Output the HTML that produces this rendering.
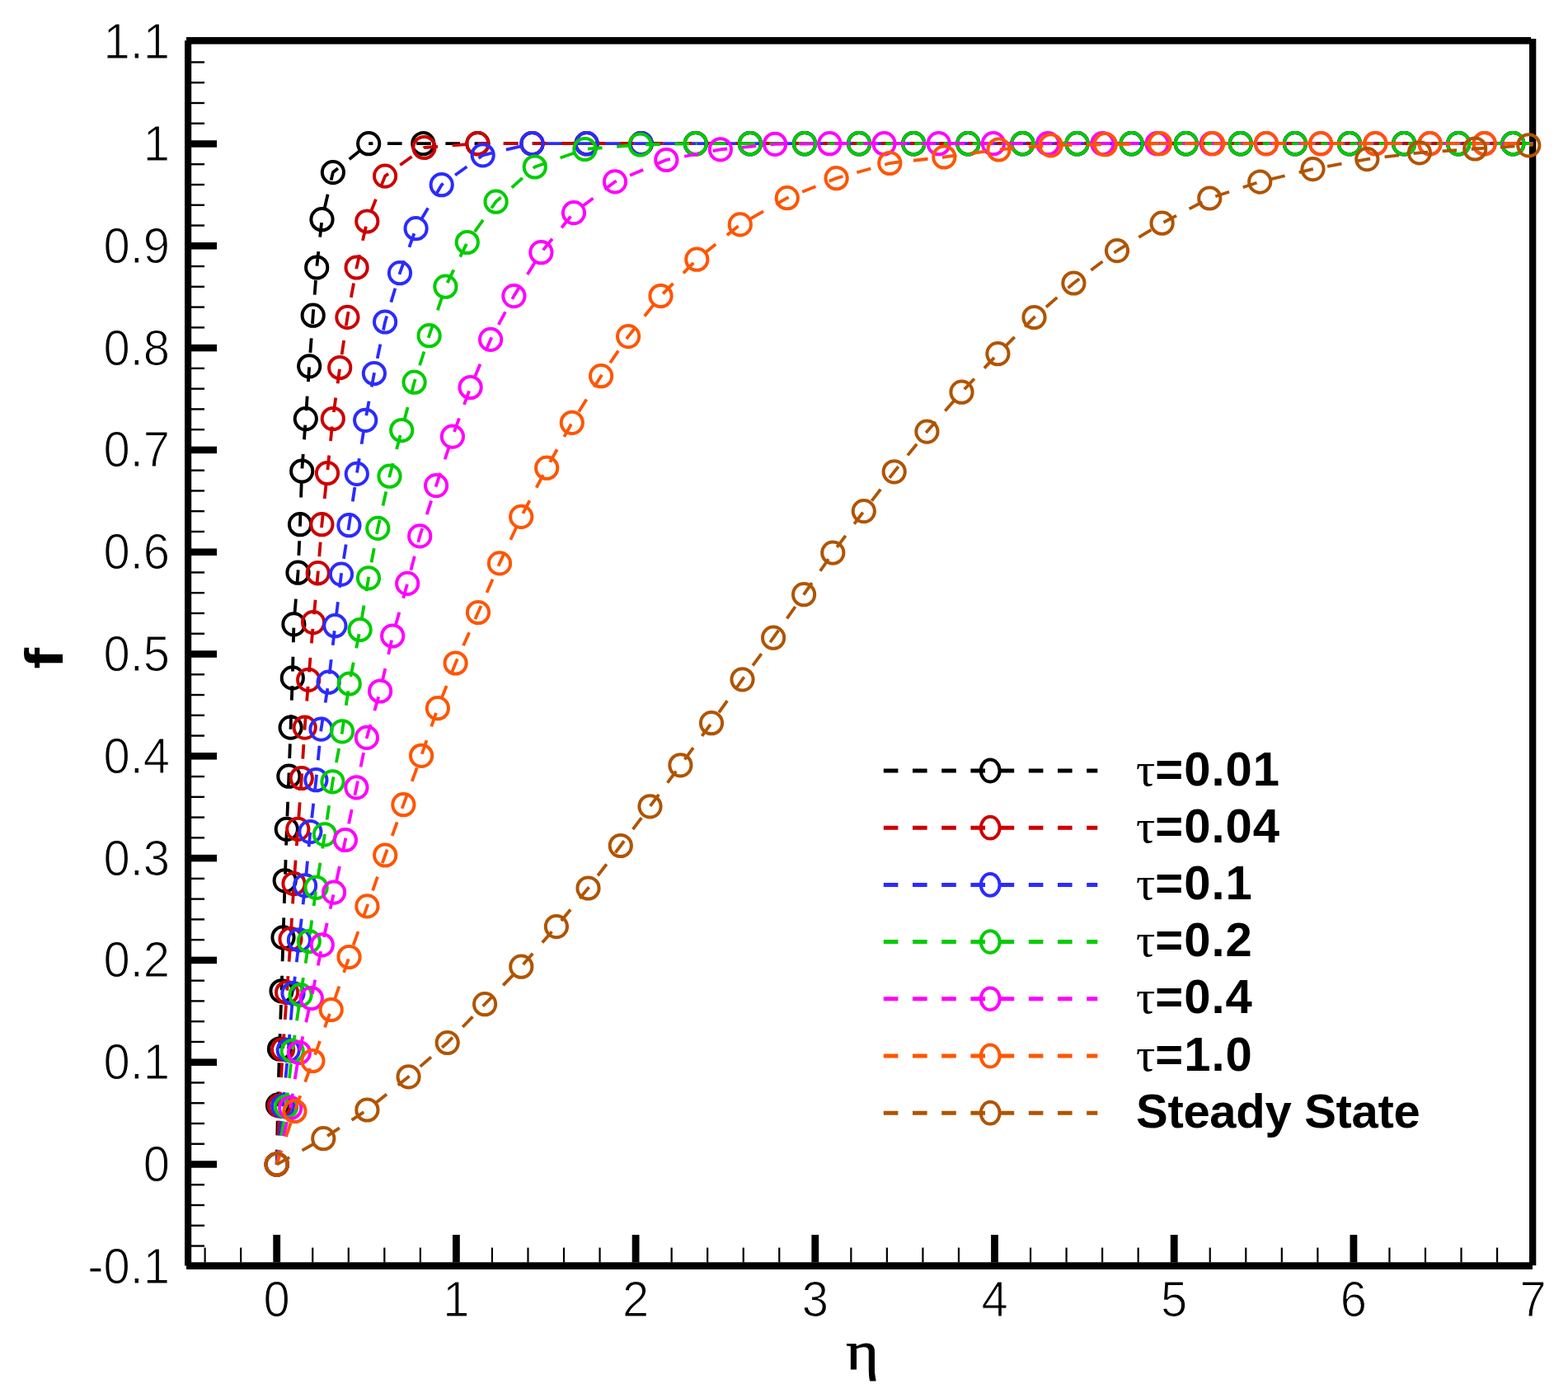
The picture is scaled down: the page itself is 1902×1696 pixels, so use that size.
<!DOCTYPE html>
<html><head><meta charset="utf-8"><title>f vs eta</title>
<style>html,body{margin:0;padding:0;background:#fff;}svg{display:block;}</style>
</head><body>
<svg width="1902" height="1696" viewBox="0 0 1902 1696"><g fill="#000"><rect x="226" y="45" width="1631" height="8.6"/><rect x="224" y="49.2" width="8.2" height="1486.3"/><rect x="1855" y="47" width="8.3" height="1488.2"/><rect x="226" y="1531.3" width="1633" height="8.7"/></g>
<g fill="#000"><rect x="232" y="1510.34" width="16" height="2.4"/><rect x="232" y="1485.58" width="16" height="2.4"/><rect x="232" y="1460.82" width="16" height="2.4"/><rect x="232" y="1436.06" width="16" height="2.4"/><rect x="232" y="1408.25" width="31" height="8.5"/><rect x="232" y="1386.54" width="16" height="2.4"/><rect x="232" y="1361.78" width="16" height="2.4"/><rect x="232" y="1337.02" width="16" height="2.4"/><rect x="232" y="1312.26" width="16" height="2.4"/><rect x="232" y="1284.45" width="31" height="8.5"/><rect x="232" y="1262.74" width="16" height="2.4"/><rect x="232" y="1237.98" width="16" height="2.4"/><rect x="232" y="1213.22" width="16" height="2.4"/><rect x="232" y="1188.46" width="16" height="2.4"/><rect x="232" y="1160.65" width="31" height="8.5"/><rect x="232" y="1138.94" width="16" height="2.4"/><rect x="232" y="1114.18" width="16" height="2.4"/><rect x="232" y="1089.42" width="16" height="2.4"/><rect x="232" y="1064.66" width="16" height="2.4"/><rect x="232" y="1036.85" width="31" height="8.5"/><rect x="232" y="1015.14" width="16" height="2.4"/><rect x="232" y="990.38" width="16" height="2.4"/><rect x="232" y="965.62" width="16" height="2.4"/><rect x="232" y="940.86" width="16" height="2.4"/><rect x="232" y="913.05" width="31" height="8.5"/><rect x="232" y="891.34" width="16" height="2.4"/><rect x="232" y="866.58" width="16" height="2.4"/><rect x="232" y="841.82" width="16" height="2.4"/><rect x="232" y="817.06" width="16" height="2.4"/><rect x="232" y="789.25" width="31" height="8.5"/><rect x="232" y="767.54" width="16" height="2.4"/><rect x="232" y="742.78" width="16" height="2.4"/><rect x="232" y="718.02" width="16" height="2.4"/><rect x="232" y="693.26" width="16" height="2.4"/><rect x="232" y="665.45" width="31" height="8.5"/><rect x="232" y="643.74" width="16" height="2.4"/><rect x="232" y="618.98" width="16" height="2.4"/><rect x="232" y="594.22" width="16" height="2.4"/><rect x="232" y="569.46" width="16" height="2.4"/><rect x="232" y="541.65" width="31" height="8.5"/><rect x="232" y="519.94" width="16" height="2.4"/><rect x="232" y="495.18" width="16" height="2.4"/><rect x="232" y="470.42" width="16" height="2.4"/><rect x="232" y="445.66" width="16" height="2.4"/><rect x="232" y="417.85" width="31" height="8.5"/><rect x="232" y="396.14" width="16" height="2.4"/><rect x="232" y="371.38" width="16" height="2.4"/><rect x="232" y="346.62" width="16" height="2.4"/><rect x="232" y="321.86" width="16" height="2.4"/><rect x="232" y="294.05" width="31" height="8.5"/><rect x="232" y="272.34" width="16" height="2.4"/><rect x="232" y="247.58" width="16" height="2.4"/><rect x="232" y="222.82" width="16" height="2.4"/><rect x="232" y="198.06" width="16" height="2.4"/><rect x="232" y="170.25" width="31" height="8.5"/><rect x="232" y="148.54" width="16" height="2.4"/><rect x="232" y="123.78" width="16" height="2.4"/><rect x="232" y="99.02" width="16" height="2.4"/><rect x="232" y="74.26" width="16" height="2.4"/><rect x="247.52" y="1513.6" width="2.2" height="17.9"/><rect x="291.06" y="1513.6" width="2.2" height="17.9"/><rect x="331.30" y="1498" width="8.8" height="33.5"/><rect x="378.14" y="1513.6" width="2.2" height="17.9"/><rect x="421.68" y="1513.6" width="2.2" height="17.9"/><rect x="465.22" y="1513.6" width="2.2" height="17.9"/><rect x="508.76" y="1513.6" width="2.2" height="17.9"/><rect x="549.00" y="1498" width="8.8" height="33.5"/><rect x="595.84" y="1513.6" width="2.2" height="17.9"/><rect x="639.38" y="1513.6" width="2.2" height="17.9"/><rect x="682.92" y="1513.6" width="2.2" height="17.9"/><rect x="726.46" y="1513.6" width="2.2" height="17.9"/><rect x="766.70" y="1498" width="8.8" height="33.5"/><rect x="813.54" y="1513.6" width="2.2" height="17.9"/><rect x="857.08" y="1513.6" width="2.2" height="17.9"/><rect x="900.62" y="1513.6" width="2.2" height="17.9"/><rect x="944.16" y="1513.6" width="2.2" height="17.9"/><rect x="984.40" y="1498" width="8.8" height="33.5"/><rect x="1031.24" y="1513.6" width="2.2" height="17.9"/><rect x="1074.78" y="1513.6" width="2.2" height="17.9"/><rect x="1118.32" y="1513.6" width="2.2" height="17.9"/><rect x="1161.86" y="1513.6" width="2.2" height="17.9"/><rect x="1202.10" y="1498" width="8.8" height="33.5"/><rect x="1248.94" y="1513.6" width="2.2" height="17.9"/><rect x="1292.48" y="1513.6" width="2.2" height="17.9"/><rect x="1336.02" y="1513.6" width="2.2" height="17.9"/><rect x="1379.56" y="1513.6" width="2.2" height="17.9"/><rect x="1419.80" y="1498" width="8.8" height="33.5"/><rect x="1466.64" y="1513.6" width="2.2" height="17.9"/><rect x="1510.18" y="1513.6" width="2.2" height="17.9"/><rect x="1553.72" y="1513.6" width="2.2" height="17.9"/><rect x="1597.26" y="1513.6" width="2.2" height="17.9"/><rect x="1637.50" y="1498" width="8.8" height="33.5"/><rect x="1684.34" y="1513.6" width="2.2" height="17.9"/><rect x="1727.88" y="1513.6" width="2.2" height="17.9"/><rect x="1771.42" y="1513.6" width="2.2" height="17.9"/><rect x="1814.96" y="1513.6" width="2.2" height="17.9"/></g>
<g font-family="Liberation Sans, Arial, sans-serif" font-size="61" fill="#000" stroke="#fff" stroke-width="1.2"><text transform="translate(206,1556.7) scale(0.95,1)" text-anchor="end">-0.1</text><text transform="translate(206,1432.9) scale(0.95,1)" text-anchor="end">0</text><text transform="translate(206,1309.1) scale(0.95,1)" text-anchor="end">0.1</text><text transform="translate(206,1185.3) scale(0.95,1)" text-anchor="end">0.2</text><text transform="translate(206,1061.5) scale(0.95,1)" text-anchor="end">0.3</text><text transform="translate(206,937.7) scale(0.95,1)" text-anchor="end">0.4</text><text transform="translate(206,813.9) scale(0.95,1)" text-anchor="end">0.5</text><text transform="translate(206,690.1) scale(0.95,1)" text-anchor="end">0.6</text><text transform="translate(206,566.3) scale(0.95,1)" text-anchor="end">0.7</text><text transform="translate(206,442.5) scale(0.95,1)" text-anchor="end">0.8</text><text transform="translate(206,318.7) scale(0.95,1)" text-anchor="end">0.9</text><text transform="translate(206,194.9) scale(0.95,1)" text-anchor="end">1</text><text transform="translate(206,71.1) scale(0.95,1)" text-anchor="end">1.1</text><text transform="translate(335.7,1596.5) scale(0.95,1)" text-anchor="middle">0</text><text transform="translate(553.4,1596.5) scale(0.95,1)" text-anchor="middle">1</text><text transform="translate(771.1,1596.5) scale(0.95,1)" text-anchor="middle">2</text><text transform="translate(988.8,1596.5) scale(0.95,1)" text-anchor="middle">3</text><text transform="translate(1206.5,1596.5) scale(0.95,1)" text-anchor="middle">4</text><text transform="translate(1424.2,1596.5) scale(0.95,1)" text-anchor="middle">5</text><text transform="translate(1641.9,1596.5) scale(0.95,1)" text-anchor="middle">6</text><text transform="translate(1859.6,1596.5) scale(0.95,1)" text-anchor="middle">7</text></g>
<text transform="translate(76,811.5) rotate(-90) scale(1.2,1)" font-family="Liberation Sans, Arial, sans-serif" font-weight="bold" font-size="64" fill="#000">f</text>
<text transform="translate(1046,1660.5) scale(1.15,1)" text-anchor="middle" font-family="Liberation Serif, Times New Roman, serif" font-size="66" fill="#000" stroke="#000" stroke-width="0.9">η</text>
<path d="M335.7,1412.5 L337.0,1340.7 L339.0,1272.5 L341.5,1202.3 L343.5,1137.3 L345.7,1068.3 L347.8,1005.9 L350.4,941.7 L352.6,882.6 L354.8,822.4 L356.4,757.4 L361.5,694.7 L364.0,636.2 L366.2,571.5 L370.8,508.1 L375.2,444.3 L379.7,382.7 L384.2,324.5 L390.5,266.2 L403.9,209.1 L447.2,174.2" fill="none" stroke="#000000" stroke-width="3.8" stroke-dasharray="17.6 17.6" stroke-linejoin="round"/>
<path d="M447.2,174.2 L513.3,174.2 L579.4,174.2 L645.5,174.2 L711.6,174.2 L777.7,174.2 L843.8,174.2 L909.9,174.2 L976.0,174.2 L1042.1,174.2 L1108.2,174.2 L1174.3,174.2 L1240.4,174.2 L1306.5,174.2 L1372.6,174.2 L1438.7,174.2 L1504.8,174.2 L1570.9,174.2 L1637.0,174.2 L1703.1,174.2 L1769.2,174.2 L1835.3,174.2 L1859.6,174.2" fill="none" stroke="#000000" stroke-width="3.8" stroke-dasharray="17.6 17.6" stroke-dashoffset="12.40"/>
<g fill="none" stroke="#000000" stroke-width="4.0"><circle cx="335.7" cy="1412.5" r="13.1"/><circle cx="337.0" cy="1340.7" r="13.1"/><circle cx="339.0" cy="1272.5" r="13.1"/><circle cx="341.5" cy="1202.3" r="13.1"/><circle cx="343.5" cy="1137.3" r="13.1"/><circle cx="345.7" cy="1068.3" r="13.1"/><circle cx="347.8" cy="1005.9" r="13.1"/><circle cx="350.4" cy="941.7" r="13.1"/><circle cx="352.6" cy="882.6" r="13.1"/><circle cx="354.8" cy="822.4" r="13.1"/><circle cx="356.4" cy="757.4" r="13.1"/><circle cx="361.5" cy="694.7" r="13.1"/><circle cx="364.0" cy="636.2" r="13.1"/><circle cx="366.2" cy="571.5" r="13.1"/><circle cx="370.8" cy="508.1" r="13.1"/><circle cx="375.2" cy="444.3" r="13.1"/><circle cx="379.7" cy="382.7" r="13.1"/><circle cx="384.2" cy="324.5" r="13.1"/><circle cx="390.5" cy="266.2" r="13.1"/><circle cx="403.9" cy="209.1" r="13.1"/><circle cx="447.2" cy="174.2" r="13.1"/><circle cx="513.3" cy="174.2" r="13.1"/><circle cx="579.4" cy="174.2" r="13.1"/><circle cx="645.5" cy="174.2" r="13.1"/><circle cx="711.6" cy="174.2" r="13.1"/><circle cx="777.7" cy="174.2" r="13.1"/><circle cx="843.8" cy="174.2" r="13.1"/><circle cx="909.9" cy="174.2" r="13.1"/><circle cx="976.0" cy="174.2" r="13.1"/><circle cx="1042.1" cy="174.2" r="13.1"/><circle cx="1108.2" cy="174.2" r="13.1"/><circle cx="1174.3" cy="174.2" r="13.1"/><circle cx="1240.4" cy="174.2" r="13.1"/><circle cx="1306.5" cy="174.2" r="13.1"/><circle cx="1372.6" cy="174.2" r="13.1"/><circle cx="1438.7" cy="174.2" r="13.1"/><circle cx="1504.8" cy="174.2" r="13.1"/><circle cx="1570.9" cy="174.2" r="13.1"/><circle cx="1637.0" cy="174.2" r="13.1"/><circle cx="1703.1" cy="174.2" r="13.1"/><circle cx="1769.2" cy="174.2" r="13.1"/><circle cx="1835.3" cy="174.2" r="13.1"/></g>
<path d="M335.7,1412.5 L339.0,1341.5 L343.1,1273.0 L348.1,1204.0 L352.5,1139.2 L356.5,1072.0 L361.3,1005.9 L365.8,944.0 L369.7,882.6 L374.2,824.8 L380.0,755.1 L385.7,695.2 L390.4,636.2 L397.0,574.0 L403.8,508.0 L412.2,446.0 L421.4,384.9 L432.6,324.5 L445.3,268.5 L467.1,213.6 L514.5,179.0 L579.4,174.2" fill="none" stroke="#cc0000" stroke-width="3.8" stroke-dasharray="17.6 17.6" stroke-linejoin="round"/>
<path d="M579.4,174.2 L645.5,174.2 L711.6,174.2 L777.7,174.2 L843.8,174.2 L909.9,174.2 L976.0,174.2 L1042.1,174.2 L1108.2,174.2 L1174.3,174.2 L1240.4,174.2 L1306.5,174.2 L1372.6,174.2 L1438.7,174.2 L1504.8,174.2 L1570.9,174.2 L1637.0,174.2 L1703.1,174.2 L1769.2,174.2 L1835.3,174.2 L1859.6,174.2" fill="none" stroke="#cc0000" stroke-width="3.8" stroke-dasharray="17.6 17.6" stroke-dashoffset="3.80"/>
<g fill="none" stroke="#cc0000" stroke-width="4.0"><circle cx="335.7" cy="1412.5" r="13.1"/><circle cx="339.0" cy="1341.5" r="13.1"/><circle cx="343.1" cy="1273.0" r="13.1"/><circle cx="348.1" cy="1204.0" r="13.1"/><circle cx="352.5" cy="1139.2" r="13.1"/><circle cx="356.5" cy="1072.0" r="13.1"/><circle cx="361.3" cy="1005.9" r="13.1"/><circle cx="365.8" cy="944.0" r="13.1"/><circle cx="369.7" cy="882.6" r="13.1"/><circle cx="374.2" cy="824.8" r="13.1"/><circle cx="380.0" cy="755.1" r="13.1"/><circle cx="385.7" cy="695.2" r="13.1"/><circle cx="390.4" cy="636.2" r="13.1"/><circle cx="397.0" cy="574.0" r="13.1"/><circle cx="403.8" cy="508.0" r="13.1"/><circle cx="412.2" cy="446.0" r="13.1"/><circle cx="421.4" cy="384.9" r="13.1"/><circle cx="432.6" cy="324.5" r="13.1"/><circle cx="445.3" cy="268.5" r="13.1"/><circle cx="467.1" cy="213.6" r="13.1"/><circle cx="514.5" cy="179.0" r="13.1"/><circle cx="579.4" cy="174.2" r="13.1"/><circle cx="645.5" cy="174.2" r="13.1"/><circle cx="711.6" cy="174.2" r="13.1"/><circle cx="777.7" cy="174.2" r="13.1"/><circle cx="843.8" cy="174.2" r="13.1"/><circle cx="909.9" cy="174.2" r="13.1"/><circle cx="976.0" cy="174.2" r="13.1"/><circle cx="1042.1" cy="174.2" r="13.1"/><circle cx="1108.2" cy="174.2" r="13.1"/><circle cx="1174.3" cy="174.2" r="13.1"/><circle cx="1240.4" cy="174.2" r="13.1"/><circle cx="1306.5" cy="174.2" r="13.1"/><circle cx="1372.6" cy="174.2" r="13.1"/><circle cx="1438.7" cy="174.2" r="13.1"/><circle cx="1504.8" cy="174.2" r="13.1"/><circle cx="1570.9" cy="174.2" r="13.1"/><circle cx="1637.0" cy="174.2" r="13.1"/><circle cx="1703.1" cy="174.2" r="13.1"/><circle cx="1769.2" cy="174.2" r="13.1"/><circle cx="1835.3" cy="174.2" r="13.1"/></g>
<path d="M335.7,1412.5 L343.1,1342.0 L349.7,1274.0 L355.5,1205.0 L362.9,1140.4 L370.1,1074.4 L376.4,1009.1 L383.4,946.2 L389.5,884.6 L398.6,827.7 L406.4,759.2 L414.0,696.6 L423.4,637.2 L432.8,574.9 L443.2,509.8 L453.9,453.0 L467.1,390.5 L485.0,331.2 L504.6,277.2 L535.7,224.2 L585.7,188.3 L645.5,174.2" fill="none" stroke="#2b2bff" stroke-width="3.8" stroke-dasharray="17.6 17.6" stroke-linejoin="round"/>
<path d="M645.5,174.2 L711.6,174.2 L777.7,174.2 L843.8,174.2 L909.9,174.2 L976.0,174.2 L1042.1,174.2 L1108.2,174.2 L1174.3,174.2 L1240.4,174.2 L1306.5,174.2 L1372.6,174.2 L1438.7,174.2 L1504.8,174.2 L1570.9,174.2 L1637.0,174.2 L1703.1,174.2 L1769.2,174.2 L1835.3,174.2 L1859.6,174.2" fill="none" stroke="#2b2bff" stroke-width="3.8" stroke-dasharray="17.6 17.6" stroke-dashoffset="17.10"/>
<g fill="none" stroke="#2b2bff" stroke-width="4.0"><circle cx="335.7" cy="1412.5" r="13.1"/><circle cx="343.1" cy="1342.0" r="13.1"/><circle cx="349.7" cy="1274.0" r="13.1"/><circle cx="355.5" cy="1205.0" r="13.1"/><circle cx="362.9" cy="1140.4" r="13.1"/><circle cx="370.1" cy="1074.4" r="13.1"/><circle cx="376.4" cy="1009.1" r="13.1"/><circle cx="383.4" cy="946.2" r="13.1"/><circle cx="389.5" cy="884.6" r="13.1"/><circle cx="398.6" cy="827.7" r="13.1"/><circle cx="406.4" cy="759.2" r="13.1"/><circle cx="414.0" cy="696.6" r="13.1"/><circle cx="423.4" cy="637.2" r="13.1"/><circle cx="432.8" cy="574.9" r="13.1"/><circle cx="443.2" cy="509.8" r="13.1"/><circle cx="453.9" cy="453.0" r="13.1"/><circle cx="467.1" cy="390.5" r="13.1"/><circle cx="485.0" cy="331.2" r="13.1"/><circle cx="504.6" cy="277.2" r="13.1"/><circle cx="535.7" cy="224.2" r="13.1"/><circle cx="585.7" cy="188.3" r="13.1"/><circle cx="645.5" cy="174.2" r="13.1"/><circle cx="711.6" cy="174.2" r="13.1"/><circle cx="777.7" cy="174.2" r="13.1"/><circle cx="843.8" cy="174.2" r="13.1"/><circle cx="909.9" cy="174.2" r="13.1"/><circle cx="976.0" cy="174.2" r="13.1"/><circle cx="1042.1" cy="174.2" r="13.1"/><circle cx="1108.2" cy="174.2" r="13.1"/><circle cx="1174.3" cy="174.2" r="13.1"/><circle cx="1240.4" cy="174.2" r="13.1"/><circle cx="1306.5" cy="174.2" r="13.1"/><circle cx="1372.6" cy="174.2" r="13.1"/><circle cx="1438.7" cy="174.2" r="13.1"/><circle cx="1504.8" cy="174.2" r="13.1"/><circle cx="1570.9" cy="174.2" r="13.1"/><circle cx="1637.0" cy="174.2" r="13.1"/><circle cx="1703.1" cy="174.2" r="13.1"/><circle cx="1769.2" cy="174.2" r="13.1"/><circle cx="1835.3" cy="174.2" r="13.1"/></g>
<path d="M335.7,1412.5 L347.2,1342.5 L354.7,1275.0 L364.6,1207.0 L374.8,1142.0 L383.6,1076.8 L393.9,1012.3 L403.5,948.3 L415.1,887.3 L423.7,829.5 L436.6,764.0 L447.0,701.3 L458.3,640.9 L472.5,577.7 L487.2,522.0 L502.6,463.7 L520.6,407.2 L540.4,347.7 L566.8,294.0 L601.6,244.7 L648.8,202.5 L709.4,181.0 L776.6,175.5 L843.8,174.2" fill="none" stroke="#00cc00" stroke-width="3.8" stroke-dasharray="17.6 17.6" stroke-linejoin="round"/>
<path d="M843.8,174.2 L909.9,174.2 L976.0,174.2 L1042.1,174.2 L1108.2,174.2 L1174.3,174.2 L1240.4,174.2 L1306.5,174.2 L1372.6,174.2 L1438.7,174.2 L1504.8,174.2 L1570.9,174.2 L1637.0,174.2 L1703.1,174.2 L1769.2,174.2 L1835.3,174.2 L1859.6,174.2" fill="none" stroke="#00cc00" stroke-width="3.8" stroke-dasharray="17.6 17.6" stroke-dashoffset="15.90"/>
<g fill="none" stroke="#00cc00" stroke-width="4.0"><circle cx="335.7" cy="1412.5" r="13.1"/><circle cx="347.2" cy="1342.5" r="13.1"/><circle cx="354.7" cy="1275.0" r="13.1"/><circle cx="364.6" cy="1207.0" r="13.1"/><circle cx="374.8" cy="1142.0" r="13.1"/><circle cx="383.6" cy="1076.8" r="13.1"/><circle cx="393.9" cy="1012.3" r="13.1"/><circle cx="403.5" cy="948.3" r="13.1"/><circle cx="415.1" cy="887.3" r="13.1"/><circle cx="423.7" cy="829.5" r="13.1"/><circle cx="436.6" cy="764.0" r="13.1"/><circle cx="447.0" cy="701.3" r="13.1"/><circle cx="458.3" cy="640.9" r="13.1"/><circle cx="472.5" cy="577.7" r="13.1"/><circle cx="487.2" cy="522.0" r="13.1"/><circle cx="502.6" cy="463.7" r="13.1"/><circle cx="520.6" cy="407.2" r="13.1"/><circle cx="540.4" cy="347.7" r="13.1"/><circle cx="566.8" cy="294.0" r="13.1"/><circle cx="601.6" cy="244.7" r="13.1"/><circle cx="648.8" cy="202.5" r="13.1"/><circle cx="709.4" cy="181.0" r="13.1"/><circle cx="776.6" cy="175.5" r="13.1"/><circle cx="843.8" cy="174.2" r="13.1"/><circle cx="909.9" cy="174.2" r="13.1"/><circle cx="976.0" cy="174.2" r="13.1"/><circle cx="1042.1" cy="174.2" r="13.1"/><circle cx="1108.2" cy="174.2" r="13.1"/><circle cx="1174.3" cy="174.2" r="13.1"/><circle cx="1240.4" cy="174.2" r="13.1"/><circle cx="1306.5" cy="174.2" r="13.1"/><circle cx="1372.6" cy="174.2" r="13.1"/><circle cx="1438.7" cy="174.2" r="13.1"/><circle cx="1504.8" cy="174.2" r="13.1"/><circle cx="1570.9" cy="174.2" r="13.1"/><circle cx="1637.0" cy="174.2" r="13.1"/><circle cx="1703.1" cy="174.2" r="13.1"/><circle cx="1769.2" cy="174.2" r="13.1"/><circle cx="1835.3" cy="174.2" r="13.1"/></g>
<path d="M335.7,1412.5 L352.2,1344.0 L362.9,1277.0 L377.8,1211.0 L390.8,1146.3 L405.1,1082.6 L418.9,1019.0 L432.4,955.3 L444.9,894.9 L461.1,838.5 L476.2,771.5 L494.2,707.9 L509.2,650.4 L529.1,589.1 L548.9,529.6 L570.6,470.0 L595.1,411.9 L623.4,359.1 L656.4,306.2 L696.0,258.1 L746.0,220.4 L808.3,194.0 L873.9,181.3 L940.1,174.8 L1006.3,174.2" fill="none" stroke="#ff00ff" stroke-width="3.8" stroke-dasharray="17.6 17.6" stroke-linejoin="round"/>
<path d="M1006.3,174.2 L1072.5,174.2 L1138.7,174.2 L1204.9,174.2 L1271.1,174.2 L1337.3,174.2 L1403.5,174.2 L1469.7,174.2 L1535.9,174.2 L1602.1,174.2 L1668.3,174.2 L1734.5,174.2 L1800.7,174.2 L1859.6,174.2" fill="none" stroke="#ff00ff" stroke-width="3.8" stroke-dasharray="17.6 17.6" stroke-dashoffset="29.30"/>
<g fill="none" stroke="#ff00ff" stroke-width="4.0"><circle cx="335.7" cy="1412.5" r="13.1"/><circle cx="352.2" cy="1344.0" r="13.1"/><circle cx="362.9" cy="1277.0" r="13.1"/><circle cx="377.8" cy="1211.0" r="13.1"/><circle cx="390.8" cy="1146.3" r="13.1"/><circle cx="405.1" cy="1082.6" r="13.1"/><circle cx="418.9" cy="1019.0" r="13.1"/><circle cx="432.4" cy="955.3" r="13.1"/><circle cx="444.9" cy="894.9" r="13.1"/><circle cx="461.1" cy="838.5" r="13.1"/><circle cx="476.2" cy="771.5" r="13.1"/><circle cx="494.2" cy="707.9" r="13.1"/><circle cx="509.2" cy="650.4" r="13.1"/><circle cx="529.1" cy="589.1" r="13.1"/><circle cx="548.9" cy="529.6" r="13.1"/><circle cx="570.6" cy="470.0" r="13.1"/><circle cx="595.1" cy="411.9" r="13.1"/><circle cx="623.4" cy="359.1" r="13.1"/><circle cx="656.4" cy="306.2" r="13.1"/><circle cx="696.0" cy="258.1" r="13.1"/><circle cx="746.0" cy="220.4" r="13.1"/><circle cx="808.3" cy="194.0" r="13.1"/><circle cx="873.9" cy="181.3" r="13.1"/><circle cx="940.1" cy="174.8" r="13.1"/><circle cx="1006.3" cy="174.2" r="13.1"/><circle cx="1072.5" cy="174.2" r="13.1"/><circle cx="1138.7" cy="174.2" r="13.1"/><circle cx="1204.9" cy="174.2" r="13.1"/><circle cx="1271.1" cy="174.2" r="13.1"/><circle cx="1337.3" cy="174.2" r="13.1"/><circle cx="1403.5" cy="174.2" r="13.1"/><circle cx="1469.7" cy="174.2" r="13.1"/><circle cx="1535.9" cy="174.2" r="13.1"/><circle cx="1602.1" cy="174.2" r="13.1"/><circle cx="1668.3" cy="174.2" r="13.1"/><circle cx="1734.5" cy="174.2" r="13.1"/><circle cx="1800.7" cy="174.2" r="13.1"/></g>
<path d="M335.7,1412.5 L357.5,1348.0 L379.4,1287.0 L401.7,1225.0 L423.5,1161.0 L445.4,1099.4 L467.2,1037.5 L489.4,976.2 L511.1,916.8 L530.9,859.2 L552.6,804.5 L580.0,743.0 L606.0,683.4 L632.2,626.9 L663.2,567.7 L693.8,512.8 L729.1,456.2 L762.1,408.1 L801.5,359.0 L845.3,314.7 L897.8,272.4 L954.8,240.2 L1014.6,216.2 L1079.3,198.0 L1145.3,190.5 L1211.5,181.5 L1274.6,176.3 L1340.8,175.2 L1407.0,174.2" fill="none" stroke="#ff5500" stroke-width="3.8" stroke-dasharray="17.6 17.6" stroke-linejoin="round"/>
<path d="M1407.0,174.2 L1471.2,174.2 L1535.9,174.2 L1602.1,174.2 L1668.3,174.2 L1734.5,174.2 L1800.7,174.2 L1859.6,174.2" fill="none" stroke="#ff5500" stroke-width="3.8" stroke-dasharray="17.6 17.6" stroke-dashoffset="5.20"/>
<g fill="none" stroke="#ff5500" stroke-width="4.0"><circle cx="335.7" cy="1412.5" r="13.1"/><circle cx="357.5" cy="1348.0" r="13.1"/><circle cx="379.4" cy="1287.0" r="13.1"/><circle cx="401.7" cy="1225.0" r="13.1"/><circle cx="423.5" cy="1161.0" r="13.1"/><circle cx="445.4" cy="1099.4" r="13.1"/><circle cx="467.2" cy="1037.5" r="13.1"/><circle cx="489.4" cy="976.2" r="13.1"/><circle cx="511.1" cy="916.8" r="13.1"/><circle cx="530.9" cy="859.2" r="13.1"/><circle cx="552.6" cy="804.5" r="13.1"/><circle cx="580.0" cy="743.0" r="13.1"/><circle cx="606.0" cy="683.4" r="13.1"/><circle cx="632.2" cy="626.9" r="13.1"/><circle cx="663.2" cy="567.7" r="13.1"/><circle cx="693.8" cy="512.8" r="13.1"/><circle cx="729.1" cy="456.2" r="13.1"/><circle cx="762.1" cy="408.1" r="13.1"/><circle cx="801.5" cy="359.0" r="13.1"/><circle cx="845.3" cy="314.7" r="13.1"/><circle cx="897.8" cy="272.4" r="13.1"/><circle cx="954.8" cy="240.2" r="13.1"/><circle cx="1014.6" cy="216.2" r="13.1"/><circle cx="1079.3" cy="198.0" r="13.1"/><circle cx="1145.3" cy="190.5" r="13.1"/><circle cx="1211.5" cy="181.5" r="13.1"/><circle cx="1274.6" cy="176.3" r="13.1"/><circle cx="1340.8" cy="175.2" r="13.1"/><circle cx="1407.0" cy="174.2" r="13.1"/><circle cx="1471.2" cy="174.2" r="13.1"/><circle cx="1535.9" cy="174.2" r="13.1"/><circle cx="1602.1" cy="174.2" r="13.1"/><circle cx="1668.3" cy="174.2" r="13.1"/><circle cx="1734.5" cy="174.2" r="13.1"/><circle cx="1800.7" cy="174.2" r="13.1"/></g>
<path d="M335.8,1412.7 L392.3,1381.2 L445.4,1346.5 L495.6,1306.3 L542.7,1265.0 L588.1,1218.2 L632.3,1172.7 L674.9,1124.1 L713.5,1077.5 L752.8,1026.0 L788.5,978.3 L825.4,928.3 L863.0,877.2 L900.5,824.3 L938.1,773.7 L975.1,721.2 L1010.3,670.6 L1047.8,620.1 L1084.7,572.3 L1124.4,523.6 L1166.5,475.7 L1210.4,429.2 L1254.5,385.0 L1302.4,343.5 L1355.0,304.1 L1409.6,270.7 L1467.3,240.5 L1528.2,220.6 L1592.5,205.1 L1658.3,193.1 L1721.9,185.3 L1789.2,180.5 L1854.3,176.3 L1859.6,175.6" fill="none" stroke="#b05400" stroke-width="3.8" stroke-dasharray="17.6 17.6" stroke-linejoin="round"/>
<g fill="none" stroke="#b05400" stroke-width="4.0"><circle cx="335.8" cy="1412.7" r="13.1"/><circle cx="392.3" cy="1381.2" r="13.1"/><circle cx="445.4" cy="1346.5" r="13.1"/><circle cx="495.6" cy="1306.3" r="13.1"/><circle cx="542.7" cy="1265.0" r="13.1"/><circle cx="588.1" cy="1218.2" r="13.1"/><circle cx="632.3" cy="1172.7" r="13.1"/><circle cx="674.9" cy="1124.1" r="13.1"/><circle cx="713.5" cy="1077.5" r="13.1"/><circle cx="752.8" cy="1026.0" r="13.1"/><circle cx="788.5" cy="978.3" r="13.1"/><circle cx="825.4" cy="928.3" r="13.1"/><circle cx="863.0" cy="877.2" r="13.1"/><circle cx="900.5" cy="824.3" r="13.1"/><circle cx="938.1" cy="773.7" r="13.1"/><circle cx="975.1" cy="721.2" r="13.1"/><circle cx="1010.3" cy="670.6" r="13.1"/><circle cx="1047.8" cy="620.1" r="13.1"/><circle cx="1084.7" cy="572.3" r="13.1"/><circle cx="1124.4" cy="523.6" r="13.1"/><circle cx="1166.5" cy="475.7" r="13.1"/><circle cx="1210.4" cy="429.2" r="13.1"/><circle cx="1254.5" cy="385.0" r="13.1"/><circle cx="1302.4" cy="343.5" r="13.1"/><circle cx="1355.0" cy="304.1" r="13.1"/><circle cx="1409.6" cy="270.7" r="13.1"/><circle cx="1467.3" cy="240.5" r="13.1"/><circle cx="1528.2" cy="220.6" r="13.1"/><circle cx="1592.5" cy="205.1" r="13.1"/><circle cx="1658.3" cy="193.1" r="13.1"/><circle cx="1721.9" cy="185.3" r="13.1"/><circle cx="1789.2" cy="180.5" r="13.1"/><circle cx="1854.3" cy="176.3" r="13.1"/></g>
<line x1="1071.8" y1="935.0" x2="1331.3" y2="935.0" stroke="#000000" stroke-width="5" stroke-dasharray="17.6 17.6"/>
<ellipse cx="1201.2" cy="935.0" rx="11.4" ry="13.4" fill="none" stroke="#000000" stroke-width="4"/>
<text x="1378" y="952.5" font-size="58" fill="#000"><tspan font-family="Liberation Serif, Times New Roman, serif">τ</tspan><tspan font-family="Liberation Sans, Arial, sans-serif" font-weight="bold" letter-spacing="1">=0.01</tspan></text>
<line x1="1071.8" y1="1004.2" x2="1331.3" y2="1004.2" stroke="#cc0000" stroke-width="5" stroke-dasharray="17.6 17.6"/>
<ellipse cx="1201.2" cy="1004.2" rx="11.4" ry="13.4" fill="none" stroke="#cc0000" stroke-width="4"/>
<text x="1378" y="1021.7" font-size="58" fill="#000"><tspan font-family="Liberation Serif, Times New Roman, serif">τ</tspan><tspan font-family="Liberation Sans, Arial, sans-serif" font-weight="bold" letter-spacing="1">=0.04</tspan></text>
<line x1="1071.8" y1="1073.4" x2="1331.3" y2="1073.4" stroke="#2b2bff" stroke-width="5" stroke-dasharray="17.6 17.6"/>
<ellipse cx="1201.2" cy="1073.4" rx="11.4" ry="13.4" fill="none" stroke="#2b2bff" stroke-width="4"/>
<text x="1378" y="1090.9" font-size="58" fill="#000"><tspan font-family="Liberation Serif, Times New Roman, serif">τ</tspan><tspan font-family="Liberation Sans, Arial, sans-serif" font-weight="bold" letter-spacing="1">=0.1</tspan></text>
<line x1="1071.8" y1="1142.6" x2="1331.3" y2="1142.6" stroke="#00cc00" stroke-width="5" stroke-dasharray="17.6 17.6"/>
<ellipse cx="1201.2" cy="1142.6" rx="11.4" ry="13.4" fill="none" stroke="#00cc00" stroke-width="4"/>
<text x="1378" y="1160.1" font-size="58" fill="#000"><tspan font-family="Liberation Serif, Times New Roman, serif">τ</tspan><tspan font-family="Liberation Sans, Arial, sans-serif" font-weight="bold" letter-spacing="1">=0.2</tspan></text>
<line x1="1071.8" y1="1211.8" x2="1331.3" y2="1211.8" stroke="#ff00ff" stroke-width="5" stroke-dasharray="17.6 17.6"/>
<ellipse cx="1201.2" cy="1211.8" rx="11.4" ry="13.4" fill="none" stroke="#ff00ff" stroke-width="4"/>
<text x="1378" y="1229.3" font-size="58" fill="#000"><tspan font-family="Liberation Serif, Times New Roman, serif">τ</tspan><tspan font-family="Liberation Sans, Arial, sans-serif" font-weight="bold" letter-spacing="1">=0.4</tspan></text>
<line x1="1071.8" y1="1281.0" x2="1331.3" y2="1281.0" stroke="#ff5500" stroke-width="5" stroke-dasharray="17.6 17.6"/>
<ellipse cx="1201.2" cy="1281.0" rx="11.4" ry="13.4" fill="none" stroke="#ff5500" stroke-width="4"/>
<text x="1378" y="1298.5" font-size="58" fill="#000"><tspan font-family="Liberation Serif, Times New Roman, serif">τ</tspan><tspan font-family="Liberation Sans, Arial, sans-serif" font-weight="bold" letter-spacing="1">=1.0</tspan></text>
<line x1="1071.8" y1="1350.2" x2="1331.3" y2="1350.2" stroke="#b05400" stroke-width="5" stroke-dasharray="17.6 17.6"/>
<ellipse cx="1201.2" cy="1350.2" rx="11.4" ry="13.4" fill="none" stroke="#b05400" stroke-width="4"/>
<text x="1378" y="1367.7" font-size="58" fill="#000" font-family="Liberation Sans, Arial, sans-serif" font-weight="bold" letter-spacing="-0.3">Steady State</text></svg>
</body></html>
